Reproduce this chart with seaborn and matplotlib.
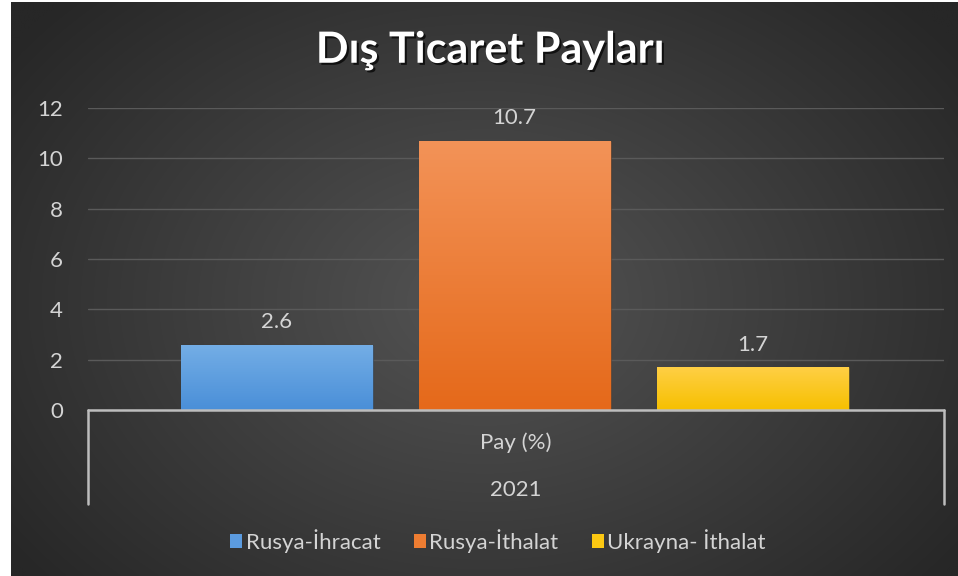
import numpy as np
import matplotlib
matplotlib.use("Agg")
import matplotlib.pyplot as plt
import matplotlib.patheffects as pe
from matplotlib.patches import Rectangle
import seaborn as sns

# ---- data ----
series = ["Rusya-İhracat", "Rusya-İthalat", "Ukrayna- İthalat"]
values = [2.6, 10.7, 1.7]
category = "Pay (%)"
year = "2021"
title = "Dış Ticaret Payları"
yticks = [0, 2, 4, 6, 8, 10, 12]

colors_top = ["#74aee6", "#f39358", "#ffcf45"]
colors_bot = ["#4a8fd8", "#e5691a", "#f6c000"]
colors_mid = ["#5b9bdf", "#ee7d32", "#fcc812"]

sns.set_theme(style="dark")
plt.rcParams["font.family"] = ["Lato", "DejaVu Sans"]

W, H = 958, 576
fig = plt.figure(figsize=(W / 100, H / 100), dpi=100, facecolor="white")

# background with radial gradient
bg = fig.add_axes([11 / W, 0, 1 - 11 / W, 1 - 2 / H])
bg.set_axis_off()
ny, nx = 300, 500
yy, xx = np.mgrid[0:ny, 0:nx]
cx, cy = nx * 0.5, ny * 0.52
r = np.sqrt(((xx - cx) / (nx * 0.62)) ** 2 + ((yy - cy) / (ny * 0.75)) ** 2)
r = np.clip(r, 0, 1)
c_in = np.array([0x54, 0x54, 0x54]) / 255
c_out = np.array([0x27, 0x27, 0x27]) / 255
img = c_in[None, None, :] * (1 - r[..., None]) + c_out[None, None, :] * r[..., None]
bg.imshow(img, aspect="auto", extent=[0, 1, 0, 1], interpolation="bilinear")
bg.set_xlim(0, 1)
bg.set_ylim(0, 1)

# main axes
left, right = 88 / W, 944 / W
bottom, top = 1 - 410 / H, 1 - 108 / H
ax = fig.add_axes([left, bottom, right - left, top - bottom])
ax.patch.set_alpha(0)

sns.barplot(x=series, y=values, hue=series, palette=colors_mid, width=0.807,
            saturation=1, legend=False, ax=ax, zorder=3)

fs = 16
tc = "#d4d4d4"
ax.set_xlim(-0.794, 2.805)
ax.set_ylim(0, 12)
ax.set_yticks(yticks)
ax.set_yticklabels([str(t) for t in yticks], fontsize=fs, color=tc)
ax.tick_params(axis="y", length=0, pad=18)
ax.set_xticks([])
ax.set_xlabel("")
ax.set_ylabel("")
for s in ax.spines.values():
    s.set_visible(False)
ax.grid(axis="y", color="#5a5a5a", linewidth=1.0, zorder=0)
ax.grid(axis="x", visible=False)

# gradient fill on bars
for i, p in enumerate(ax.patches):
    x0, y0 = p.get_x(), p.get_y()
    w, h = p.get_width(), p.get_height()
    ct = np.array(matplotlib.colors.to_rgb(colors_top[i]))
    cb = np.array(matplotlib.colors.to_rgb(colors_bot[i]))
    t = np.linspace(0, 1, 100)[:, None]
    grad = ct[None, :] * (1 - t) + cb[None, :] * t
    grad = np.repeat(grad[:, None, :], 2, axis=1)
    im = ax.imshow(grad, extent=[x0, x0 + w, y0, y0 + h], aspect="auto",
                   zorder=4, interpolation="bilinear")
    im.set_clip_path(p)
    p.set_edgecolor("#33333380")
    p.set_linewidth(0.8)
    ax.text(x0 + w / 2, y0 + h + 0.5, f"{values[i]:.1f}", ha="center", va="bottom",
            fontsize=fs, color=tc, zorder=5)
ax.set_xlim(-0.794, 2.805)
ax.set_ylim(0, 12)

# category axis box
lc = "#bdbdbd"
box_b = -94 / 302
ax.plot([0, 1], [0, 0], transform=ax.transAxes, color=lc, lw=1.8, clip_on=False, zorder=6)
ax.plot([0, 0], [0, box_b], transform=ax.transAxes, color=lc, lw=1.8, clip_on=False, zorder=6)
ax.plot([1, 1], [0, box_b], transform=ax.transAxes, color=lc, lw=1.8, clip_on=False, zorder=6)
ax.text(0.5, -33 / 302, category, transform=ax.transAxes, ha="center", va="center",
        fontsize=fs, color=tc)
ax.text(0.5, -80 / 302, year, transform=ax.transAxes, ha="center", va="center",
        fontsize=fs, color=tc)

# title
fig.text(490 / W, 1 - 50 / H, title, ha="center", va="center", fontsize=31,
         fontweight="bold", color="white",
         path_effects=[pe.SimplePatchShadow(offset=(1.5, -1.5), shadow_rgbFace="black", alpha=0.7),
                       pe.Normal()])

# legend
handles = [Rectangle((0, 0), 1, 1, facecolor=c, edgecolor="none") for c in colors_mid]
fig.legend(handles, series, loc="center", bbox_to_anchor=(498 / W, 1 - 541 / H), ncol=3,
           frameon=False, fontsize=fs, labelcolor=tc, handlelength=0.55,
           handleheight=0.55, handletextpad=0.15, columnspacing=1.5)

fig.savefig("out.png", dpi=100, facecolor="white")
